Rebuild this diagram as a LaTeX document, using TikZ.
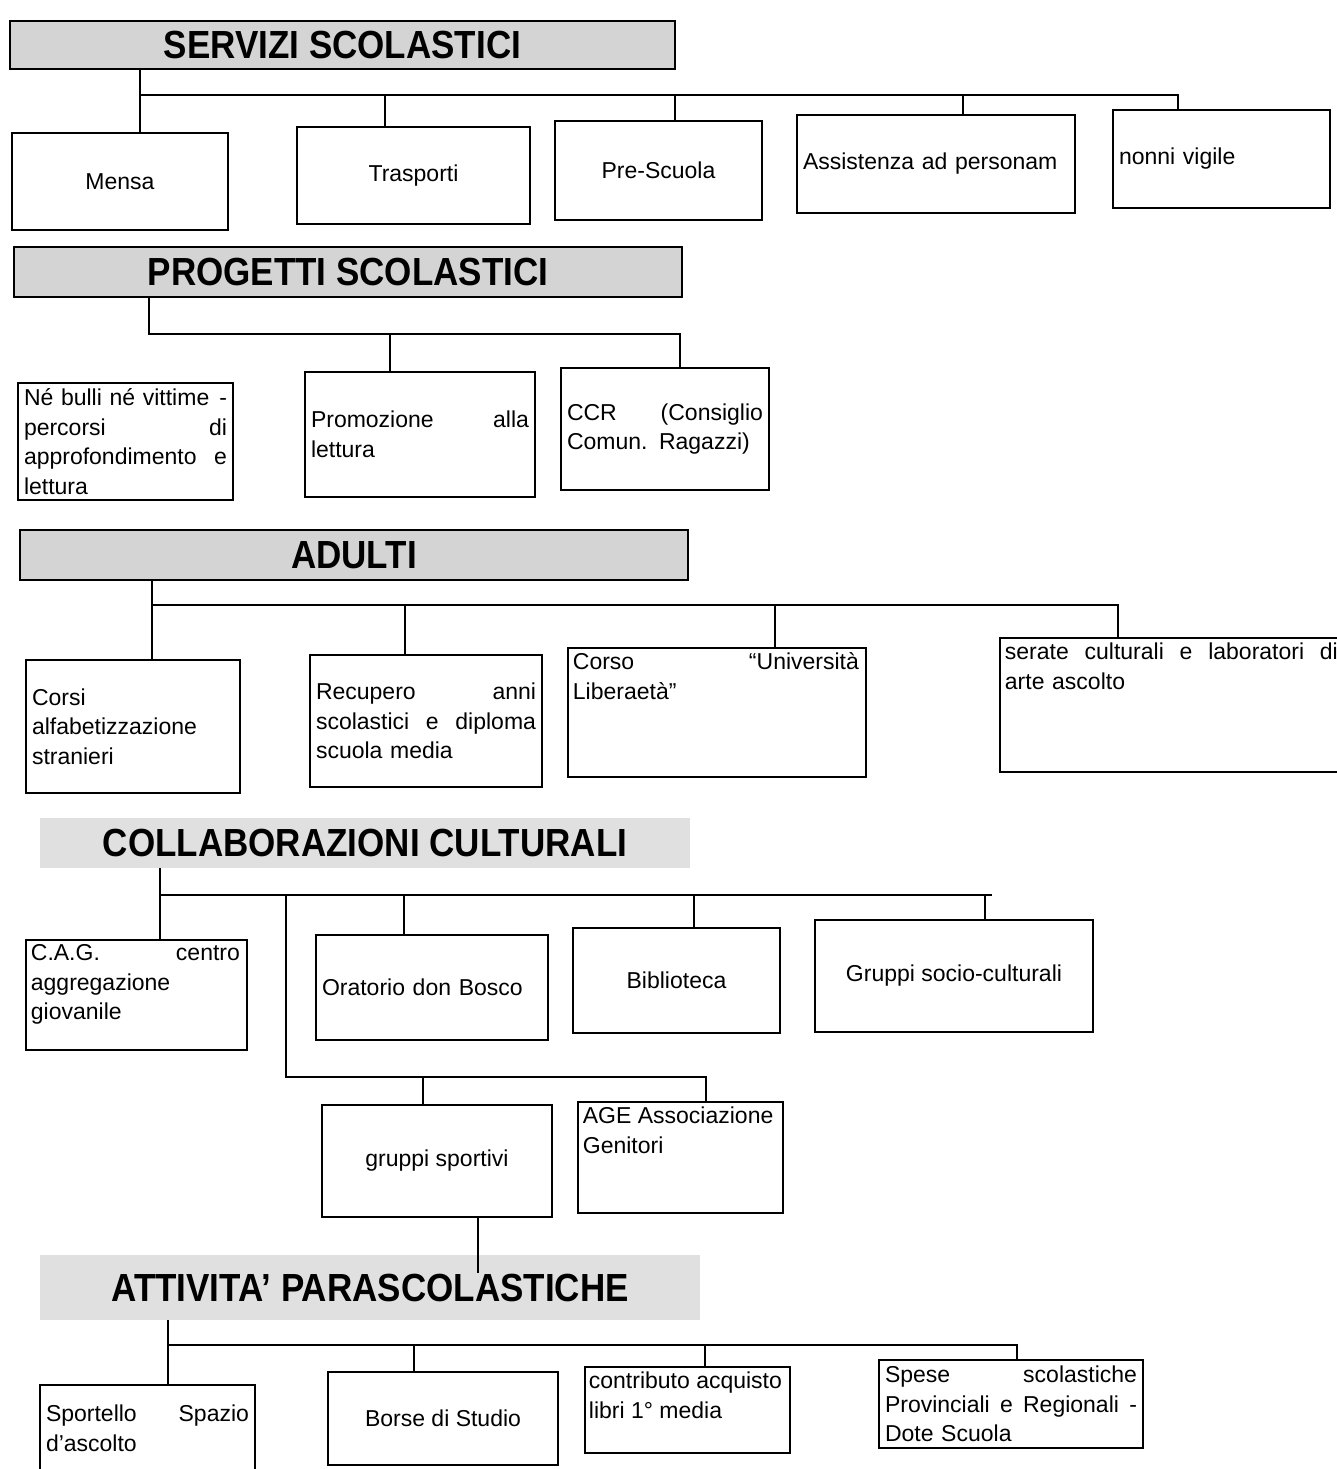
\documentclass[tikz,border=0pt]{standalone}
\usepackage{fontspec}
\setmainfont{Liberation Sans}
\usetikzlibrary{positioning}
\newcommand{\alto}[1]{\scalebox{1}[1.12]{#1}}

\begin{document}
\begin{tikzpicture}[x=1pt, y=-1pt,
    every node/.style={font=\fontsize{23}{29.5}\selectfont},
    testata/.style={draw, line width=2.8pt, fill=black!17, inner sep=0pt,
        font=\fontsize{35}{40}\selectfont\bfseries},
    fascia/.style={fill=black!12, inner sep=0pt,
        font=\fontsize{35}{40}\selectfont\bfseries},
    voce/.style={draw, line width=2.6pt, inner sep=0pt, align=center},
    testo/.style={inner sep=0pt, align=left, anchor=north west},
    filo/.style={line width=2pt}]

    \useasboundingbox (0,0) rectangle (1337,1469);

    % servizi scolastici
    \node[testata, minimum width=665pt, minimum height=48pt] (servizi) at (342.5,45) {\alto{SERVIZI SCOLASTICI}};
    \node[voce, minimum width=216pt, minimum height=97pt] (mensa) at (120,181.5) {Mensa};
    \node[voce, minimum width=233pt, minimum height=97pt] (trasporti) at (413.5,175.5) {Trasporti};
    \node[voce, minimum width=207pt, minimum height=99pt] (pre) at (658.5,170.5) {Pre-Scuola};
    \node[voce, minimum width=278pt, minimum height=98pt, text width=266pt, align=left] (assist) at (936,164) {Assistenza ad personam};
    \node[voce, minimum width=217pt, minimum height=98pt, text width=205pt, align=left] (nonni) at (1221.5,159) {nonni vigile};
    \coordinate (s0) at (140,95);
    \coordinate (s1) at (1178,95);
    \draw[filo] (servizi.south -| s0) -- (mensa.north -| s0);
    \draw[filo] (s0) -- (s1) -- (nonni.north -| s1);
    \foreach \x/\b in {385/trasporti, 675/pre, 963/assist}
        \draw[filo] (\x,95) coordinate (d) -- (d |- \b.north);

    % progetti scolastici
    \node[testata, minimum width=668pt, minimum height=50pt] (progetti) at (348,272) {\alto{PROGETTI SCOLASTICI}};
    \node[voce, minimum width=215pt, minimum height=117pt, text width=203pt, align=left] (bulli) at (125.5,441.5)
        {Né bulli né vittime \hfill -\\percorsi \hfill di\\approfondimento \hfill e\\lettura};
    \node[voce, minimum width=230pt, minimum height=125pt, text width=218pt, align=left] (promo) at (420,434.5)
        {Promozione \hfill alla\\lettura};
    \node[voce, minimum width=208pt, minimum height=122pt, text width=196pt, align=left] (ccr) at (665,429)
        {CCR \hfill (Consiglio\\Comun. Ragazzi)};
    \coordinate (p0) at (149,334);
    \coordinate (p1) at (680,334);
    \draw[filo] (progetti.south -| p0) -- (p0) -- (p1) -- (ccr.north -| p1);
    \draw[filo] (390,334) coordinate (d) -- (d |- promo.north);

    % adulti
    \node[testata, minimum width=668pt, minimum height=50pt] (adulti) at (354,555) {\alto{ADULTI}};
    \node[voce, minimum width=214pt, minimum height=133pt, text width=202pt, align=left] (corsi) at (133,726.5)
        {Corsi\\alfabetizzazione\\stranieri};
    \node[voce, minimum width=232pt, minimum height=132pt, text width=220pt, align=left] (recupero) at (426,721)
        {Recupero \hfill anni\\scolastici \hfill e \hfill diploma\\scuola media};
    \node[voce, minimum width=298pt, minimum height=129pt] (corso) at (717,712.5) {};
    \node[testo, text width=286pt] (corsoT) at ([shift={(6,6)}]corso.north west)
        {Corso \hfill “Università\\Liberaetà”};
    \node[voce, minimum width=345pt, minimum height=134pt] (serate) at (1172.5,705) {};
    \node[testo, text width=333pt] (serateT) at ([shift={(6,6)}]serate.north west)
        {serate \hfill culturali \hfill e \hfill laboratori \hfill di\\arte ascolto};
    \coordinate (a0) at (152,605);
    \coordinate (a1) at (1118,605);
    \draw[filo] (adulti.south -| a0) -- (corsi.north -| a0);
    \draw[filo] (a0) -- (a1) -- (serate.north -| a1);
    \foreach \x/\b in {405/recupero, 775/corso}
        \draw[filo] (\x,605) coordinate (d) -- (d |- \b.north);

    % collaborazioni culturali
    \node[fascia, minimum width=650pt, minimum height=50pt] (collab) at (365,843) {\alto{COLLABORAZIONI CULTURALI}};
    \node[voce, minimum width=221pt, minimum height=110pt] (cag) at (136.5,995) {};
    \node[testo, text width=209pt] (cagT) at ([shift={(6,6)}]cag.north west)
        {C.A.G. \hfill centro\\aggregazione\\giovanile};
    \node[voce, minimum width=232pt, minimum height=105pt, text width=220pt, align=left] (oratorio) at (432,987.5) {Oratorio don Bosco};
    \node[voce, minimum width=207pt, minimum height=105pt] (biblio) at (676.5,980.5) {Biblioteca};
    \node[voce, minimum width=278pt, minimum height=112pt] (gruppi) at (954,976) {Gruppi socio-culturali};
    \node[voce, minimum width=230pt, minimum height=112pt] (sportivi) at (437,1161) {gruppi sportivi};
    \node[voce, minimum width=205pt, minimum height=111pt] (age) at (680.5,1157.5) {};
    \node[testo] (ageT) at ([shift={(6,6)}]age.north west) {AGE Associazione\\Genitori};
    \coordinate (c0) at (160,895);
    \coordinate (c1) at (992,895);
    \coordinate (c2) at (286,895);
    \coordinate (c3) at (286,1077);
    \coordinate (c4) at (706,1077);
    \draw[filo] (collab.south -| c0) -- (cag.north -| c0);
    \draw[filo] (c0) -- (c1);
    \foreach \x/\b in {404/oratorio, 694/biblio, 985/gruppi}
        \draw[filo] (\x,895) coordinate (d) -- (d |- \b.north);
    \draw[filo] (c2) -- (c3) -- (c4) -- (age.north -| c4);
    \draw[filo] (423,1077) coordinate (d) -- (d |- sportivi.north);

    % attivita parascolastiche
    \node[fascia, minimum width=660pt, minimum height=65pt] (attivita) at (370,1287.5) {\alto{ATTIVITA’ PARASCOLASTICHE}};
    \coordinate (g0) at (478,1273);
    \draw[filo] (sportivi.south -| g0) -- (g0);
    \node[voce, minimum width=215pt, minimum height=87pt, text width=203pt, align=left] (sportello) at (147.5,1428.5)
        {Sportello \hfill Spazio\\d’ascolto};
    \node[voce, minimum width=230pt, minimum height=93pt] (borse) at (443,1418.5) {Borse di Studio};
    \node[voce, minimum width=205pt, minimum height=86pt] (contrib) at (687.5,1410) {};
    \node[testo] (contribT) at ([shift={(5,6)}]contrib.north west) {contributo acquisto\\libri 1° media};
    \node[voce, minimum width=264pt, minimum height=88pt, text width=252pt, align=left] (spese) at (1011,1404)
        {Spese \hfill scolastiche\\Provinciali \hfill e \hfill Regionali \hfill -\\Dote Scuola};
    \coordinate (t0) at (168,1345);
    \coordinate (t1) at (1017,1345);
    \draw[filo] (attivita.south -| t0) -- (sportello.north -| t0);
    \draw[filo] (t0) -- (t1) -- (spese.north -| t1);
    \foreach \x/\b in {414/borse, 705/contrib}
        \draw[filo] (\x,1345) coordinate (d) -- (d |- \b.north);
\end{tikzpicture}
\end{document}
